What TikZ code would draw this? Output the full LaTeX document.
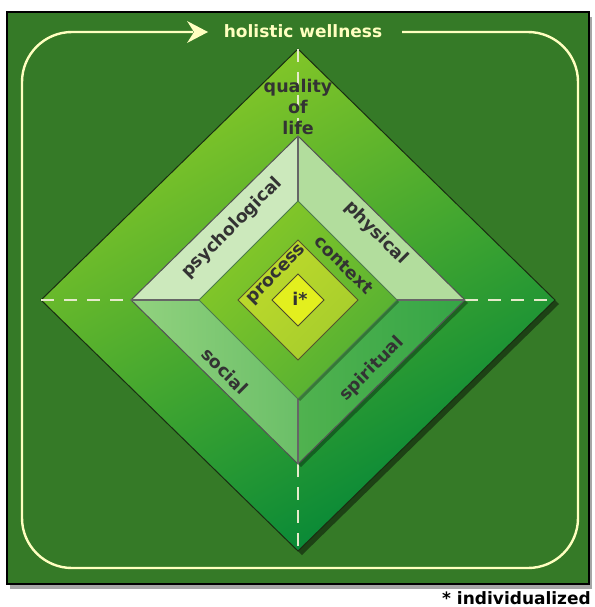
\documentclass[tikz,border=0pt]{standalone}
\usepackage{fontspec}
\setmainfont{DejaVu Sans}
\usetikzlibrary{shadows,arrows.meta}
\definecolor{bg}{HTML}{357A27}
\definecolor{cream}{HTML}{FFFFC0}
\definecolor{dashc}{HTML}{E6EACB}
\definecolor{lbltext}{HTML}{333333}
\definecolor{bigA}{HTML}{8ACA27}
\definecolor{bigB}{HTML}{008538}
\definecolor{bigedge}{HTML}{1A2E12}
\definecolor{psych}{HTML}{CCE9BC}
\definecolor{phys}{HTML}{B2DD9D}
\definecolor{socA}{HTML}{92D27F}
\definecolor{socB}{HTML}{6BBF68}
\definecolor{spiA}{HTML}{50B24F}
\definecolor{spiB}{HTML}{35A546}
\definecolor{ctxA}{HTML}{88C927}
\definecolor{ctxB}{HTML}{52AF33}
\definecolor{procA}{HTML}{BEDA2B}
\definecolor{procB}{HTML}{A6CD2C}
\definecolor{istar}{HTML}{E3EF1E}
\definecolor{divider}{HTML}{666666}
\begin{document}
\begin{tikzpicture}[x=1pt,y=-1pt,
  lbl/.style={font=\fontsize{17.5}{21}\selectfont\bfseries, text=lbltext, inner sep=0pt, align=center},
  dashline/.style={draw=dashc, line width=1.5pt, dash pattern=on 13pt off 10pt},
  divline/.style={draw=divider, line width=1.5pt},
  softshadow/.style={drop shadow={shadow xshift=4pt, shadow yshift=-4pt, opacity=0.45, fill=black}}]
\useasboundingbox (0,0) rectangle (594,607);
\fill[white] (0,0) rectangle (594,607);
% frame
\fill[bg, draw=black, line width=1.5pt, drop shadow={shadow xshift=3pt, shadow yshift=-5pt, opacity=0.35, fill=black}] (7,12) rectangle (589,584);
% loop
\coordinate (loopstart) at (402,32);
\coordinate (arrowtip) at (208,32);
\draw[cream, line width=2.4pt, rounded corners=50pt] (loopstart) -- (578,32) -- (578,568) -- (22,568) -- (22,32) -- (193,32);
\fill[cream] (arrowtip) -- (187,21) -- (194,32) -- (187,43) -- cycle;
\node[font=\fontsize{17}{21}\selectfont\bfseries, text=cream, inner sep=0pt] (hw) at (303,31) {holistic wellness};
% big diamond
\coordinate (BT) at (298,49);
\coordinate (BR) at (555,300);
\coordinate (BB) at (298,551);
\coordinate (BL) at (41,300);
\shade[softshadow, top color=bigA, bottom color=bigB, shading angle=30] (BT) -- (BR) -- (BB) -- (BL) -- cycle;
\draw[bigedge, line width=1pt] (BT) -- (BR) -- (BB) -- (BL) -- cycle;
% middle diamond
\coordinate (C) at (298,300);
\coordinate (MT) at (298,136);
\coordinate (MR) at (465,300);
\coordinate (MB) at (298,464);
\coordinate (ML) at (131,300);
\draw[dashline] (BL) -- (ML);
\draw[dashline] (MR) -- (BR);
\draw[dashline] (BT) -- (MT);
\draw[dashline] (MB) -- (BB);
\fill[drop shadow={shadow xshift=3pt, shadow yshift=-3pt, opacity=0.35, fill=black}, psych] (MT) -- (MR) -- (MB) -- (ML) -- cycle;
\fill[psych] (C) -- (ML) -- (MT) -- cycle;
\fill[phys] (C) -- (MT) -- (MR) -- cycle;
\shade[left color=socA, right color=socB] (C) -- (ML) -- (MB) -- cycle;
\shade[left color=spiA, right color=spiB] (C) -- (MB) -- (MR) -- cycle;
\draw[divider!80!black, line width=1pt] (MT) -- (MR) -- (MB) -- (ML) -- cycle;
% context diamond
\coordinate (CT) at (298,201);
\coordinate (CR) at (397,300);
\coordinate (CB) at (298,399);
\coordinate (CL) at (199,300);
\draw[divline] (MT) -- (CT);
\draw[divline] (CB) -- (MB);
\draw[divline] (ML) -- (CL);
\draw[divline] (CR) -- (MR);
\shade[drop shadow={shadow xshift=2pt, shadow yshift=-2pt, opacity=0.3, fill=black}, top color=ctxA, bottom color=ctxB, shading angle=45] (CT) -- (CR) -- (CB) -- (CL) -- cycle;
\draw[draw=black!55!green!40!gray, line width=1pt] (CT) -- (CR) -- (CB) -- (CL) -- cycle;
% process diamond
\coordinate (PT) at (298,240);
\coordinate (PR) at (358,300);
\coordinate (PB) at (298,360);
\coordinate (PL) at (238,300);
\shade[top color=procA, bottom color=procB, shading angle=45, draw=black!50!olive, line width=1pt] (PT) -- (PR) -- (PB) -- (PL) -- cycle;
% i* diamond
\coordinate (IT) at (298,274);
\coordinate (IR) at (324,300);
\coordinate (IB) at (298,326);
\coordinate (IL) at (272,300);
\fill[istar, draw=black!60!olive, line width=1pt] (IT) -- (IR) -- (IB) -- (IL) -- cycle;
% labels
\node[lbl] (qol) at (298,107) {quality\\of\\life};
\node[lbl, rotate=45] (psy) at (232,228) {psychological};
\node[lbl, rotate=-45] (phy) at (376,233) {physical};
\node[lbl, rotate=-45] (ctx) at (344,265) {context};
\node[lbl, rotate=45] (proc) at (277,275) {process};
\node[lbl] (ist) at (300,299) {i*};
\node[lbl, rotate=-45] (soc) at (225,371) {social};
\node[lbl, rotate=45] (spi) at (372,369) {spiritual};
\node[font=\fontsize{17}{21}\selectfont\bfseries, text=black, inner sep=0pt, anchor=east] (ind) at (591,598) {* individualized};
\end{tikzpicture}
\end{document}
